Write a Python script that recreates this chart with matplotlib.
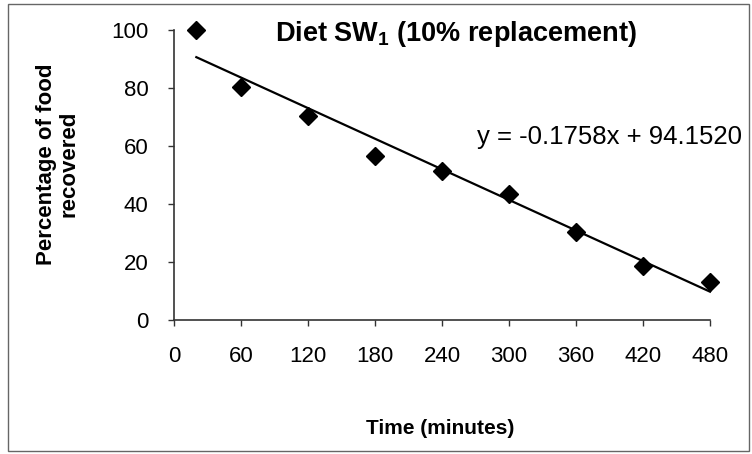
import matplotlib.pyplot as plt
import numpy as np
from matplotlib.patches import Rectangle

plt.rcParams['font.family'] = ['Liberation Sans', 'DejaVu Sans']
plt.rcParams['mathtext.fontset'] = 'custom'
plt.rcParams['mathtext.rm'] = 'Liberation Sans'
plt.rcParams['mathtext.bf'] = 'Liberation Sans:bold'

# veriler
time_min = [20, 60, 120, 180, 240, 300, 360, 420, 480]
recovered = [100, 80.5, 70.5, 56.5, 51.5, 43.5, 30.5, 18.5, 13]
slope, intercept = -0.1758, 94.1520
x_ticks = [0, 60, 120, 180, 240, 300, 360, 420, 480]
y_ticks = [0, 20, 40, 60, 80, 100]

fig = plt.figure(figsize=(7.52, 4.54), dpi=100)
ax = fig.add_axes([174/752, 1 - 320/454, 536/752, 290/454])

# egilim cizgisi
xs = np.array([time_min[0], time_min[-1]])
ax.plot(xs, slope * xs + intercept, color='black', lw=1.6, clip_on=False)
ax.plot(time_min, recovered, linestyle='none', marker='D', ms=9,
        color='black', clip_on=False)

ax.set_xlim(0, 480)
ax.set_ylim(0, 100)
ax.set_xticks(x_ticks)
ax.set_yticks(y_ticks)
ax.tick_params(axis='both', labelsize=16, length=4.5, width=1, color='#333333',
               pad=14, direction='out')
for side in ['top', 'right']:
    ax.spines[side].set_visible(False)
for side in ['left', 'bottom']:
    ax.spines[side].set_color('#333333')
    ax.spines[side].set_linewidth(1.2)

fig.text(456/752, 1 - 34/454, r"Diet SW$_{\mathbf{1}}$ (10% replacement)",
         ha='center', va='center', fontsize=19.5, fontweight='bold')
fig.text(477/752, 1 - 137/454, f"y = {slope:.4f}x + {intercept:.4f}",
         ha='left', va='center', fontsize=18.5)
fig.text(58/752, 1 - 164/454, "Percentage of food\nrecovered", rotation=90,
         ha='center', va='center', fontsize=16, fontweight='bold',
         multialignment='center', linespacing=1.1)
fig.text(440/752, 1 - 429/454, "Time (minutes)", ha='center', va='center',
         fontsize=15, fontweight='bold')

# cerceve
fig.patches.append(Rectangle((8/752, 3/454), 741/752, 447/454, transform=fig.transFigure,
                             fill=False, edgecolor='#666666', lw=1))

fig.savefig('out.png', dpi=100)
